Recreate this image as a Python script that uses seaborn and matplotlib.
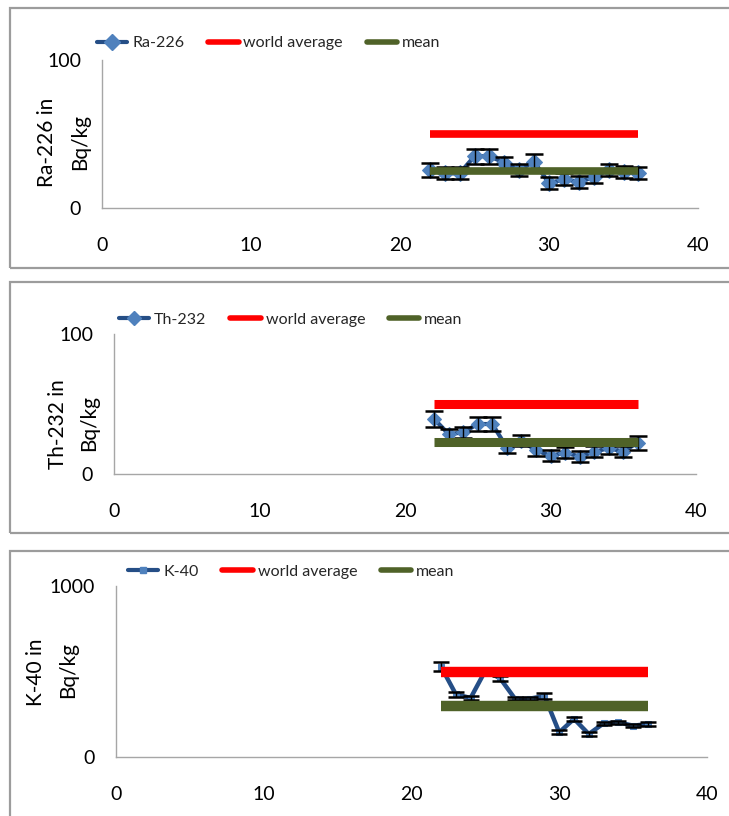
import matplotlib
matplotlib.use("Agg")
import matplotlib.pyplot as plt
import pandas as pd
import seaborn as sns
from matplotlib.patches import Rectangle
from matplotlib.lines import Line2D

# ---- data -------------------------------------------------------------
sample_no = [22, 23, 24, 25, 26, 27, 28, 29, 30, 31, 32, 33, 34, 35, 36]

ra226 = [25.7, 23.4, 23.4, 35.0, 35.0, 30.6, 25.7, 31.3, 16.7, 19.4, 17.8, 20.7, 25.7, 24.1, 23.4]
ra226_err = [5, 4, 4, 5, 5, 4, 4, 5, 4, 4, 4, 4, 4, 4, 4]
ra226_world = 50
ra226_mean = 25

th232 = [39.3, 28.5, 29.7, 35.7, 35.7, 18.9, 23.7, 17.0, 13.0, 15.3, 12.5, 15.8, 18.5, 16.0, 22.5]
th232_err = [6, 4, 4, 5, 5, 4, 4, 4, 4, 4, 4, 4, 4, 4, 5]
th232_world = 50
th232_mean = 23

k40 = [528, 367, 345, 505, 460, 341, 341, 357, 144, 223, 134, 197, 203, 183, 193]
k40_err = [25, 15, 12, 15, 15, 10, 10, 15, 12, 12, 10, 10, 10, 10, 10]
k40_world = 500
k40_mean = 300

x_ticks = [0, 10, 20, 30, 40]
line_span = [22, 36]

# ---- style ------------------------------------------------------------
sns.set_theme(style="white")
plt.rcParams["font.family"] = ["Lato", "DejaVu Sans"]

W, H = 729, 816
fig = plt.figure(figsize=(W / 100, H / 100), dpi=100)


def fx(px):
    return px / W


def fy(py):
    return 1 - py / H


SERIES_LINE = "#254E86"
SERIES_MARK = "#4F81BD"
RED = "#FF0000"
GREEN = "#4F6228"
FRAME = "#9C9C9C"
AXIS = "#A6A6A6"

panels = [
    dict(name="Ra-226", y=ra226, err=ra226_err, world=ra226_world, mean=ra226_mean,
         ymax=100, box=(102, 60, 698, 208), frame=(10, 8, 268),
         legend=(97, 43), ylab=((47, 142), (80, 142)), marker="D", ms=8.0, lw=3.0,
         band=5.5, cap=6.5),
    dict(name="Th-232", y=th232, err=th232_err, world=th232_world, mean=th232_mean,
         ymax=100, box=(114, 334, 696, 474), frame=(10, 282, 533),
         legend=(119, 320), ylab=((58, 424), (89, 423)), marker="D", ms=7.5, lw=3.0,
         band=6.5, cap=6.5),
    dict(name="K-40", y=k40, err=k40_err, world=k40_world, mean=k40_mean,
         ymax=1000, box=(116, 586, 707, 757), frame=(10, 551, 840),
         legend=(128, 572), ylab=((36, 672), (68, 670)), marker="s", ms=4.5, lw=3.2,
         band=7.5, cap=5.5),
]

for p in panels:
    left, top, right, bottom = p["box"]
    ax = fig.add_axes([fx(left), fy(bottom), (right - left) / W, (bottom - top) / H])

    # chart border
    fl, ft, fb = p["frame"]
    fig.add_artist(Rectangle((fx(fl), fy(fb)), (760 - fl) / W, (fb - ft) / H,
                             transform=fig.transFigure, fill=False,
                             edgecolor=FRAME, linewidth=1.6, zorder=0))

    df = pd.DataFrame({"sample": sample_no, "activity": p["y"]})
    sns.lineplot(data=df, x="sample", y="activity", ax=ax, color=SERIES_LINE,
                 linewidth=p["lw"], marker=p["marker"], markersize=p["ms"],
                 markerfacecolor=SERIES_MARK, markeredgecolor=SERIES_MARK,
                 zorder=2)
    ax.errorbar(sample_no, p["y"], yerr=p["err"], fmt="none", ecolor="black",
                elinewidth=1.0, capsize=p["cap"], capthick=1.8, zorder=3)

    ref = pd.DataFrame({"sample": line_span,
                        "world": [p["world"]] * 2,
                        "mean": [p["mean"]] * 2})
    sns.lineplot(data=ref, x="sample", y="world", ax=ax, color=RED,
                 linewidth=p["band"], solid_capstyle="butt", zorder=4)
    sns.lineplot(data=ref, x="sample", y="mean", ax=ax, color=GREEN,
                 linewidth=p["band"], solid_capstyle="butt", zorder=4)

    ax.set_xlim(0, 40)
    ax.set_ylim(0, p["ymax"])
    ax.set_xticks(x_ticks)
    ax.set_yticks([0, p["ymax"]])
    ax.set_xlabel("")
    ax.set_ylabel("")
    for s in ("top", "right"):
        ax.spines[s].set_visible(False)
    for s in ("left", "bottom"):
        ax.spines[s].set_color(AXIS)
        ax.spines[s].set_linewidth(1.0)
    ax.tick_params(axis="both", length=0, labelsize=14, colors="black")
    ax.tick_params(axis="x", pad=21)
    ax.tick_params(axis="y", pad=15)
    ax.set_facecolor("none")

    # rotated axis title, one text per line
    (x1, y1), (x2, y2) = p["ylab"]
    fig.text(fx(x1), fy(y1), f"{p['name']} in", rotation=90,
             ha="center", va="center", fontsize=15, color="black")
    fig.text(fx(x2), fy(y2), "Bq/kg", rotation=90,
             ha="center", va="center", fontsize=15, color="black")

    handles = [
        Line2D([], [], color=SERIES_LINE, linewidth=3, marker=p["marker"],
               markersize=p["ms"], markerfacecolor=SERIES_MARK,
               markeredgecolor=SERIES_MARK),
        Line2D([], [], color=RED, linewidth=4),
        Line2D([], [], color=GREEN, linewidth=4),
    ]
    lgx, lgy = p["legend"]
    fig.legend(handles, [p["name"], "world average", "mean"], loc="center left",
               bbox_to_anchor=(fx(lgx), fy(lgy)), ncol=3, frameon=False,
               fontsize=11.5, handlelength=1.9, handletextpad=0.3,
               columnspacing=1.5, borderpad=0, borderaxespad=0)

fig.savefig("out.png", dpi=100)
